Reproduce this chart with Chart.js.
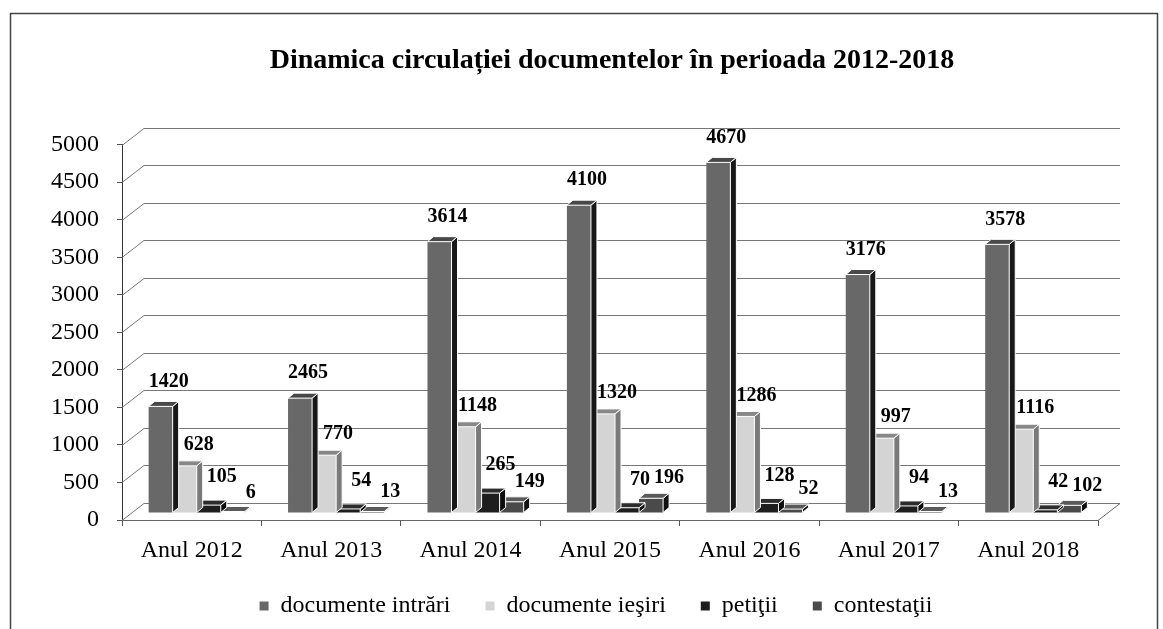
<!DOCTYPE html>
<html>
<head>
<meta charset="utf-8">
<script src="https://cdn.jsdelivr.net/npm/chart.js@4/dist/chart.umd.min.js"></script>
<style>
  html, body { margin: 0; background: #fff; }
</style>
</head>
<body>
<canvas id="docChart" width="1163" height="629"></canvas>
<script>
const years = ["Anul 2012", "Anul 2013", "Anul 2014", "Anul 2015", "Anul 2016", "Anul 2017", "Anul 2018"];
// the 2013 column is drawn at about 1530 in the original, though its label says 2465
const intrari = [1420, 1530, 3614, 4100, 4670, 3176, 3578];
const intrariText = [1420, 2465, 3614, 4100, 4670, 3176, 3578];
const iesiri = [628, 770, 1148, 1320, 1286, 997, 1116];
const petitii = [105, 54, 265, 70, 128, 94, 42];
const contestatii = [6, 13, 149, 196, 52, 13, 102];
const yMin = 0, yMax = 5000, yStep = 500;

const FONT = "'Liberation Serif', 'Times New Roman', serif";
Chart.defaults.font.family = FONT;

const DX = 22, DY = 17;   // back wall offset
const BX = 5, BY = -7;    // columns stand a bit inside the floor
const SIDE = 6, TOP = 5;  // column depth
const labelOffsets = [[8, -25], [14, -21], [13, -28], [18, -20]];

const wallPlugin = {
  id: "wall",
  beforeDraw(chart) {
    const ctx = chart.ctx;
    ctx.save();
    ctx.fillStyle = "#fff";
    ctx.fillRect(0, 0, chart.width, chart.height);
    ctx.strokeStyle = "#444";
    ctx.lineWidth = 1.5;
    ctx.strokeRect(10.5, 13.5, 1147, 640);
    ctx.restore();
  },
  beforeDatasetsDraw(chart) {
    const { ctx, chartArea: a, scales: { y } } = chart;
    ctx.save();
    ctx.strokeStyle = "#777";
    ctx.lineWidth = 1;
    y.ticks.forEach(t => {
      const py = Math.round(y.getPixelForValue(t.value)) + 0.5;
      ctx.beginPath();
      ctx.moveTo(a.left, py);
      ctx.lineTo(a.left + DX, py - DY);
      ctx.lineTo(a.right + DX, py - DY);
      ctx.stroke();
    });
    const y0 = Math.round(y.getPixelForValue(0)) + 0.5;
    ctx.strokeStyle = "#666";
    ctx.beginPath();
    ctx.moveTo(a.left, y0);
    ctx.lineTo(a.right, y0);
    ctx.lineTo(a.right + DX, y0 - DY);
    ctx.stroke();
    ctx.restore();
    ctx.save();
    ctx.translate(BX, BY);
  },
  afterDatasetDraw(chart, args) {
    const ctx = chart.ctx;
    const ds = chart.data.datasets[args.index];
    args.meta.data.forEach(bar => {
      const l = bar.x - bar.width / 2, r = bar.x + bar.width / 2;
      const t = Math.min(bar.y, bar.base - 1), b = bar.base;
      ctx.strokeStyle = "#fff";
      ctx.lineWidth = 1;
      ctx.fillStyle = ds.sideColor;
      ctx.beginPath();
      ctx.moveTo(r, t);
      ctx.lineTo(r + SIDE, t - TOP);
      ctx.lineTo(r + SIDE, b - TOP);
      ctx.lineTo(r, b);
      ctx.closePath();
      ctx.fill();
      ctx.stroke();
      ctx.fillStyle = ds.topColor;
      ctx.beginPath();
      ctx.moveTo(l, t);
      ctx.lineTo(l + SIDE, t - TOP);
      ctx.lineTo(r + SIDE, t - TOP);
      ctx.lineTo(r, t);
      ctx.closePath();
      ctx.fill();
      ctx.stroke();
    });
  },
  afterDatasetsDraw(chart) {
    const ctx = chart.ctx;
    ctx.restore();
    ctx.save();
    ctx.font = "bold 20px " + FONT;
    ctx.fillStyle = "#000";
    ctx.textAlign = "center";
    ctx.textBaseline = "middle";
    chart.data.datasets.forEach((ds, i) => {
      const [ox, oy] = labelOffsets[i];
      chart.getDatasetMeta(i).data.forEach((bar, j) => {
        const txt = String(ds.printed ? ds.printed[j] : ds.data[j]);
        ctx.fillText(txt, bar.x + BX + ox, bar.y + BY + oy);
      });
    });
    ctx.restore();
  },
  afterLayout(chart) {
    const t = chart.titleBlock;
    t.left += 63; t.right += 63;
    const lg = chart.legend;
    lg.left += 47; lg.right += 47;
  }
};

const legendFit = {
  id: "legendFit",
  beforeInit(chart) {
    const fit = chart.legend.fit;
    chart.legend.fit = function () {
      fit.call(this);
      this.height = 70;
    };
  }
};

new Chart(document.getElementById("docChart"), {
  type: "bar",
  data: {
    labels: years,
    datasets: [
      { label: "documente intrări", data: intrari, printed: intrariText, backgroundColor: "#686868", sideColor: "#181818", topColor: "#484848" },
      { label: "documente ieşiri", data: iesiri, backgroundColor: "#d4d4d4", sideColor: "#7a7a7a", topColor: "#888" },
      { label: "petiţii", data: petitii, backgroundColor: "#1e1e1e", sideColor: "#0e0e0e", topColor: "#2c2c2c" },
      { label: "contestaţii", data: contestatii, backgroundColor: "#4a4a4a", sideColor: "#111", topColor: "#5a5a5a" }
    ]
  },
  options: {
    responsive: false,
    animation: false,
    layout: { padding: { left: 0, right: 65, top: 0, bottom: 0 } },
    datasets: { bar: { categoryPercentage: 0.69, barPercentage: 1, borderWidth: 0 } },
    plugins: {
      title: {
        display: true,
        text: "Dinamica circulației documentelor în perioada 2012-2018",
        color: "#000",
        font: { family: FONT, size: 28, weight: "bold" },
        padding: { top: 44, bottom: 67 }
      },
      legend: {
        position: "bottom",
        labels: {
          color: "#000",
          font: { family: FONT, size: 24 },
          boxWidth: 9,
          boxHeight: 9,
          padding: 35
        }
      },
      tooltip: { enabled: false }
    },
    scales: {
      x: {
        grid: { drawOnChartArea: false, tickLength: 6, color: "#555" },
        border: { display: true, color: "#666" },
        ticks: { color: "#000", font: { family: FONT, size: 24 }, padding: 10 },
        afterFit: s => { s.height = 39; }
      },
      y: {
        min: yMin,
        max: yMax,
        grid: { drawOnChartArea: false, tickLength: 5, color: "#555" },
        border: { display: true, color: "#333" },
        ticks: { stepSize: yStep, color: "#000", font: { family: FONT, size: 24 }, padding: 18, callback: v => String(v) },
        afterFit: s => { s.width = 122; }
      }
    }
  },
  plugins: [wallPlugin, legendFit]
});
</script>
</body>
</html>
